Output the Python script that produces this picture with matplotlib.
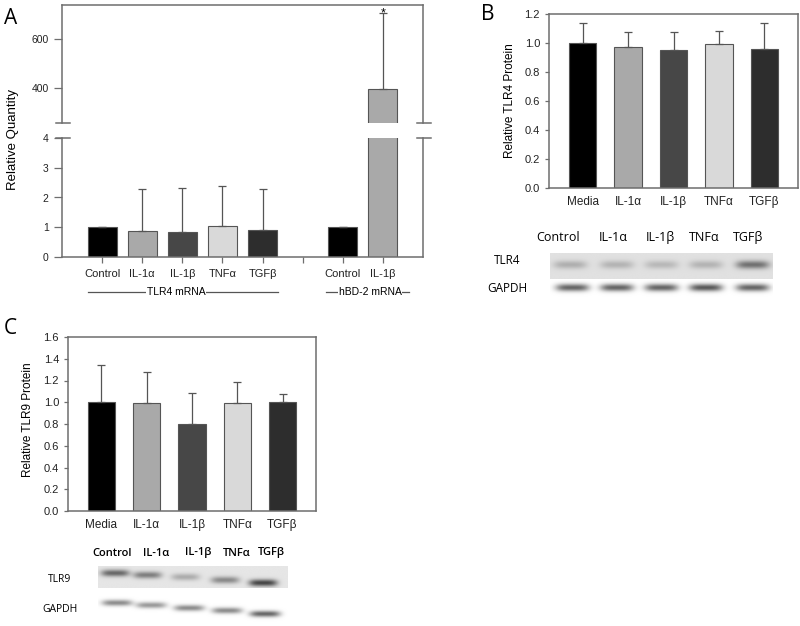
import numpy as np
import matplotlib.pyplot as plt
from matplotlib.transforms import blended_transform_factory

plt.rcParams['font.family'] = ['Liberation Sans', 'DejaVu Sans']

# panel A: qPCR relative quantity
a_labels = ['Control', 'IL-1α', 'IL-1β', 'TNFα', 'TGFβ', 'Control', 'IL-1β']
a_pos = [0, 1, 2, 3, 4, 6, 7]
a_vals = [1.0, 0.88, 0.84, 1.04, 0.92, 1.0, 395]
a_err = [0, 1.42, 1.49, 1.34, 1.38, 0, 312]
a_groups = ['TLR4 mRNA', 'hBD-2 mRNA']

# panels B and C: densitometry
prot_labels = ['Media', 'IL-1α', 'IL-1β', 'TNFα', 'TGFβ']
b_vals = [1.0, 0.97, 0.95, 0.99, 0.96]
b_err = [0.135, 0.105, 0.125, 0.09, 0.175]
c_vals = [1.0, 0.99, 0.80, 0.99, 1.0]
c_err = [0.34, 0.285, 0.285, 0.20, 0.08]

# blot lanes and band darkness (0 = none, 1 = black)
blot_lanes = ['Control', 'IL-1α', 'IL-1β', 'TNFα', 'TGFβ']
b_tlr4 = [0.22, 0.2, 0.18, 0.2, 0.5]
b_gapdh = [0.6, 0.6, 0.6, 0.65, 0.6]
c_tlr9 = [0.55, 0.45, 0.25, 0.4, 0.7]
c_gapdh = [0.45, 0.4, 0.45, 0.45, 0.6]

colors = ['#000000', '#a9a9a9', '#474747', '#d9d9d9', '#2d2d2d']
spine_c = '#6e6e6e'
W, H = 800, 626

def fx(x):
    return x / W

def fy(y):
    return 1 - y / H

def box(x0, y0, x1, y1):
    return [fx(x0), fy(y1), (x1 - x0) / W, (y1 - y0) / H]

fig = plt.figure(figsize=(8, 6.26), dpi=100)

def style(ax, sides):
    for s in ['left', 'right', 'top', 'bottom']:
        ax.spines[s].set_visible(s in sides)
        ax.spines[s].set_color(spine_c)
        ax.spines[s].set_linewidth(1.1)
    ax.tick_params(colors=spine_c, labelcolor='#222222', width=0.9)

# ---------- A ----------
a_cols = colors + ['#000000', '#a9a9a9']
axA_hi = fig.add_axes(box(62, 5, 423, 123))
axA_lo = fig.add_axes(box(62, 138, 423, 257))
for ax in (axA_hi, axA_lo):
    ax.bar(a_pos, a_vals, width=0.72, color=a_cols, edgecolor='#555555', linewidth=0.8)
    ax.errorbar(a_pos, a_vals, yerr=[np.zeros(len(a_err)), a_err], fmt='none',
                ecolor='#555555', elinewidth=0.9, capsize=3, capthick=0.9)
    ax.set_xlim(-1, 8)
axA_lo.set_ylim(0, 4)
axA_lo.set_yticks([0, 1, 2, 3, 4])
axA_lo.set_xticks([0, 1, 2, 3, 4, 5, 6, 7])
axA_lo.set_xticklabels(a_labels[:5] + [''] + a_labels[5:], fontsize=8)
axA_lo.tick_params(axis='x', length=4, pad=5)
axA_lo.tick_params(axis='y', length=6, labelsize=7.5)
style(axA_lo, ['left', 'right', 'bottom'])
axA_hi.set_ylim(255, 740)
axA_hi.set_yticks([400, 600])
axA_hi.set_xticks([])
axA_hi.tick_params(axis='y', length=6, labelsize=7.5)
style(axA_hi, ['left', 'right', 'top'])
axA_hi.text(7, 692, '*', ha='center', va='baseline', fontsize=9)

# break marks
for ax, yy in ((axA_hi, 0), (axA_lo, 1)):
    for x0 in (0.0, 1.0):
        ax.plot([x0 - 0.016, x0 + 0.021], [yy, yy], transform=ax.transAxes,
                color=spine_c, lw=1.1, clip_on=False)

fig.text(fx(13), fy(140), 'Relative Quantity', rotation=90, ha='center', va='center', fontsize=9.5)

tr = blended_transform_factory(axA_lo.transData, axA_lo.transAxes)
for name, (g0, g1), xc in zip(a_groups, [(-0.35, 4.375), (5.575, 7.65)], [1.85, 6.68]):
    axA_lo.plot([g0, g1], [-0.294, -0.294], transform=tr, color='#555555', lw=0.9, clip_on=False)
    axA_lo.text(xc, -0.294, name, transform=tr, ha='center', va='center', fontsize=7.5,
                bbox=dict(facecolor='white', edgecolor='none', pad=0.5))

# ---------- B and C bar charts ----------
def prot_panel(rect, vals, errs, ylabel, ymax, ylab_x, ylab_y):
    ax = fig.add_axes(rect)
    x = np.arange(len(vals))
    ax.bar(x, vals, width=0.6, color=colors, edgecolor='#555555', linewidth=0.8)
    ax.errorbar(x, vals, yerr=[np.zeros(len(errs)), errs], fmt='none',
                ecolor='#555555', elinewidth=0.9, capsize=3, capthick=0.9)
    ax.set_xlim(-0.74, 4.74)
    ax.set_ylim(0, ymax)
    ax.set_yticks(np.arange(0, ymax + 0.01, 0.2))
    ax.set_yticklabels([f'{v:.1f}' for v in np.arange(0, ymax + 0.01, 0.2)])
    ax.set_xticks(x)
    ax.set_xticklabels(prot_labels, fontsize=8.5)
    ax.tick_params(axis='x', length=0, pad=6)
    ax.tick_params(axis='y', length=3, labelsize=8)
    style(ax, ['left', 'right', 'top', 'bottom'])
    fig.text(fx(ylab_x), fy(ylab_y), ylabel, rotation=90, ha='center', va='center', fontsize=8.5)
    return ax

prot_panel(box(549, 14, 798, 188), b_vals, b_err, 'Relative TLR4 Protein', 1.2, 510, 101)
prot_panel(box(68, 337, 316, 511), c_vals, c_err, 'Relative TLR9 Protein', 1.6, 28, 420)

# ---------- blots ----------
def blot(rect, xs, ys, dark, bg, bw, bh):
    ax = fig.add_axes(rect)
    X, Y = np.meshgrid(np.linspace(0, 1, 400), np.linspace(0, 1, 80))
    band = np.zeros_like(X)
    for x0, y0, d in zip(xs, ys, dark):
        band += d * np.exp(-(np.abs(X - x0) / bw) ** 4) * np.exp(-((Y - y0) / bh) ** 2)
    img = bg * (1 - np.clip(band, 0, 1))
    ax.imshow(img, cmap='gray', vmin=0, vmax=1, extent=[0, 1, 1, 0], aspect='auto',
              interpolation='bilinear')
    ax.set_axis_off()

blot(box(550, 253, 773, 279), [0.09, 0.30, 0.50, 0.70, 0.91], [0.45] * 5, b_tlr4, 0.88, 0.075, 0.16)
blot(box(550, 280, 773, 298), [0.10, 0.30, 0.50, 0.70, 0.91], [0.45] * 5, b_gapdh, 1.0, 0.075, 0.2)
blot(box(98, 566, 288, 588), [0.09, 0.26, 0.46, 0.67, 0.87], [0.32, 0.41, 0.5, 0.64, 0.77],
     c_tlr9, 0.9, 0.075, 0.16)
blot(box(98, 596, 288, 622), [0.10, 0.28, 0.48, 0.68, 0.88], [0.26, 0.35, 0.46, 0.56, 0.69],
     c_gapdh, 1.0, 0.08, 0.12)

blot_font = ['Open Sans', 'DejaVu Sans']
for lab, x in zip(blot_lanes, [558, 613, 660, 704, 748]):
    fig.text(fx(x), fy(238), lab, ha='center', va='center', fontsize=9, family=blot_font)
fig.text(fx(507), fy(261), 'TLR4', ha='center', va='center', fontsize=8.5, family=blot_font)
fig.text(fx(507), fy(289), 'GAPDH', ha='center', va='center', fontsize=8.5, family=blot_font)
for lab, x in zip(blot_lanes, [112, 156, 198, 237, 271]):
    fig.text(fx(x), fy(553), lab, ha='center', va='center', fontsize=8, family=blot_font,
             fontweight='semibold')
fig.text(fx(60), fy(579), 'TLR9', ha='center', va='center', fontsize=7.5, family=blot_font)
fig.text(fx(60), fy(610), 'GAPDH', ha='center', va='center', fontsize=7.5, family=blot_font)

# panel letters
for lab, x, y in (('A', 11, 18), ('B', 488, 14), ('C', 10, 328)):
    fig.text(fx(x), fy(y), lab, ha='center', va='center', fontsize=15, family=blot_font)

fig.savefig('out.png', dpi=100)
